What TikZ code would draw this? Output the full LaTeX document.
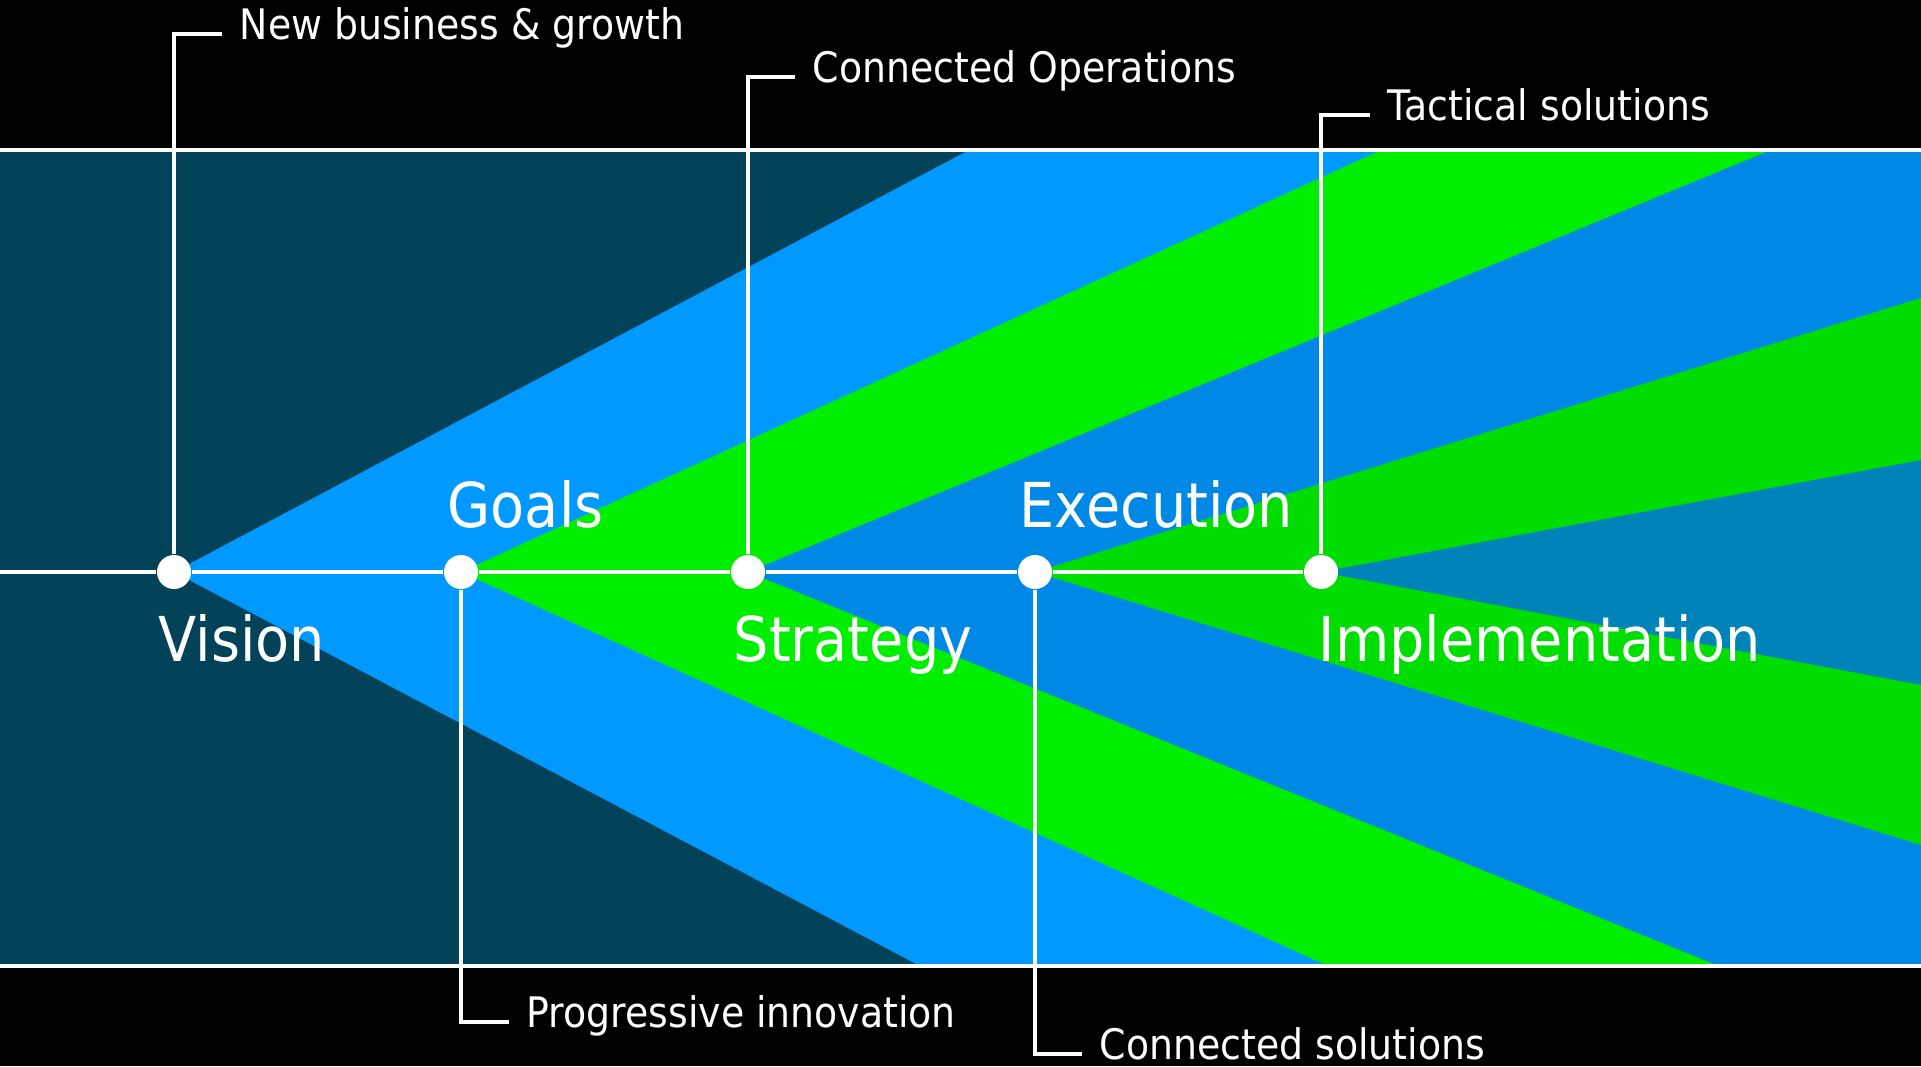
\documentclass[tikz,border=0pt]{standalone}
\usepackage{fontspec}
\setmainfont{DejaVu Sans}[FakeStretch=0.9]

\definecolor{deepteal}{HTML}{02435A}
\definecolor{skyblue}{HTML}{0099FF}
\definecolor{brightgreen}{HTML}{00EE00}
\definecolor{midblue}{HTML}{0088E6}
\definecolor{leafgreen}{HTML}{00DD00}
\definecolor{seablue}{HTML}{0083B8}

\begin{document}
\begin{tikzpicture}[x=0.01cm, y=-0.01cm,
  dot/.style={circle, fill=white, inner sep=0pt, minimum size=0.34cm},
  leader/.style={white, line width=0.9pt},
  note/.style={text=white, font=\fontsize{11.95}{14}\selectfont, anchor=west,
    inner xsep=0.17cm, inner ysep=0pt, text height=8.8pt, text depth=5.4pt},
  stage/.style={text=white, font=\fontsize{17.6}{21}\selectfont,
    anchor=base west, inner sep=0pt}]

\useasboundingbox (0,0) rectangle (1921,1066);

% Background and band
\fill[black] (0,0) rectangle (1921,1066);
\fill[deepteal] (0,150) rectangle (1921,966);

% Wedges, one per milestone
\fill[skyblue] (174,572) -- (969,150) -- (1921,150) -- (1921,966) -- (920,966) -- cycle;
\fill[brightgreen] (461,572) -- (1381,150) -- (1921,150) -- (1921,966) -- (1328,966) -- cycle;
\fill[midblue] (748,572) -- (1771,150) -- (1921,150) -- (1921,966) -- (1719,966) -- cycle;
\fill[leafgreen] (1035,572) -- (1921,298) -- (1921,845) -- cycle;
\fill[seablue] (1321,572) -- (1921,460) -- (1921,685) -- cycle;

% Band borders
\draw[white, line width=1pt] (0,150) -- (1921,150);
\draw[white, line width=1pt] (0,966) -- (1921,966);

% Milestones
\node[dot] (vision) at (174,572) {};
\node[dot] (goals) at (461,572) {};
\node[dot] (strategy) at (748,572) {};
\node[dot] (execution) at (1035,572) {};
\node[dot] (implementation) at (1321,572) {};

% Time line
\coordinate (start) at (0,572);
\draw[white, line width=1.2pt] (start) -- (vision) -- (goals) -- (strategy) -- (execution) -- (implementation);

% Stage labels
\node[stage] (visionlbl) at (158,661) {Vision};
\node[stage] (goalslbl) at (447,527) {Goals};
\node[stage] (strategylbl) at (733,661) {Strategy};
\node[stage] (executionlbl) at (1019,527) {Execution};
\node[stage] (implementationlbl) at (1318,661) {Implementation};

% Notes with leaders
\node[note] (growth) at (222,34) {New business \& growth};
\node[note] (operations) at (795,77) {Connected Operations};
\node[note] (tactical) at (1370,115) {Tactical solutions};
\node[note] (innovation) at (509,1022) {Progressive innovation};
\node[note] (solutions) at (1082,1054) {Connected solutions};

\draw[leader] (vision) |- (growth.west);
\draw[leader] (strategy) |- (operations.west);
\draw[leader] (implementation) |- (tactical.west);
\draw[leader] (goals) |- (innovation.west);
\draw[leader] (execution) |- (solutions.west);

\end{tikzpicture}
\end{document}
